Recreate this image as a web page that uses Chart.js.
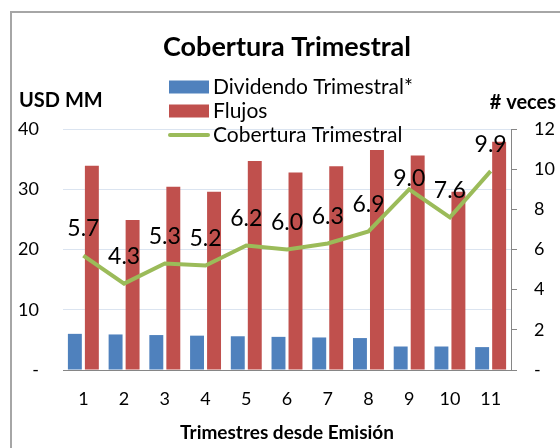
<!DOCTYPE html>
<html lang="es">
<head>
  <meta charset="UTF-8" />
  <title>Cobertura Trimestral</title>
  <script src="https://cdn.jsdelivr.net/npm/chart.js"></script>
  <style>
    * { margin: 0; padding: 0; box-sizing: border-box; }
    body { background: #fff; }
    .wrap { position: relative; width: 560px; height: 448px; }
  </style>
</head>
<body>
  <div class="wrap"><canvas id="cobertura"></canvas></div>

  <script>
    // data
    const trimestres = ['1', '2', '3', '4', '5', '6', '7', '8', '9', '10', '11'];
    const dividendo = [6.0, 5.9, 5.8, 5.7, 5.6, 5.5, 5.4, 5.3, 3.9, 3.9, 3.8];
    const flujos = [33.9, 24.9, 30.4, 29.6, 34.7, 32.8, 33.8, 36.5, 35.6, 29.6, 37.9];
    const cobertura = [5.7, 4.3, 5.3, 5.2, 6.2, 6.0, 6.3, 6.9, 9.0, 7.6, 9.9];
    const usdTicks = [0, 10, 20, 30, 40];
    const vecesTicks = [0, 2, 4, 6, 8, 10, 12];

    const FONT = 'Lato';
    const BLUE = '#4f81bd', RED = '#c0504d', GREEN = '#9bbb59';
    const AXIS = '#868686', GRID = '#dbe4f0';

    const dash = v => (v === 0 ? '-' : String(v));

    // frame, titles, legend and labels the library doesn't place like Excel
    const excelBits = {
      id: 'excelBits',
      beforeDraw(chart) {
        const { ctx } = chart;
        ctx.save();
        ctx.fillStyle = '#fff';
        ctx.fillRect(0, 0, chart.width, chart.height);
        ctx.strokeStyle = '#a6a6a6';
        ctx.lineWidth = 2;
        ctx.beginPath();
        ctx.moveTo(11, chart.height);
        ctx.lineTo(11, 12);
        ctx.lineTo(chart.width, 12);
        ctx.stroke();
        ctx.restore();
      },
      afterDatasetsDraw(chart, args, opts) {
        const { ctx } = chart;
        const meta = chart.getDatasetMeta(2);
        ctx.save();
        ctx.fillStyle = '#000';
        ctx.font = '23px ' + FONT;
        ctx.textAlign = 'center';
        ctx.textBaseline = 'middle';
        meta.data.forEach((pt, i) => {
          const lift = opts.lift[i] !== undefined ? opts.lift[i] : 27;
          ctx.fillText(cobertura[i].toFixed(1), pt.x, pt.y - lift);
        });
        ctx.restore();
      },
      afterDraw(chart) {
        const { ctx, chartArea } = chart;
        const cx = (chartArea.left + chartArea.right) / 2;
        ctx.save();
        ctx.fillStyle = '#000';
        ctx.textBaseline = 'middle';

        ctx.textAlign = 'center';
        ctx.font = 'bold 27px ' + FONT;
        ctx.fillText('Cobertura Trimestral', cx, 47);
        ctx.font = 'bold 19px ' + FONT;
        ctx.fillText('Trimestres desde Emisión', cx, 433);

        ctx.font = 'bold 20px ' + FONT;
        ctx.textAlign = 'left';
        ctx.fillText('USD MM', 19, 101);
        ctx.textAlign = 'right';
        ctx.fillText('# veces', 556, 103);

        // legend
        ctx.textAlign = 'left';
        ctx.font = '21px ' + FONT;
        chart.data.datasets.forEach((ds, i) => {
          const y = 87 + i * 24;
          if (ds.type === 'line') {
            ctx.strokeStyle = ds.borderColor;
            ctx.lineWidth = 4;
            ctx.lineCap = 'round';
            ctx.beginPath();
            ctx.moveTo(170, y);
            ctx.lineTo(208, y);
            ctx.stroke();
          } else {
            ctx.fillStyle = ds.backgroundColor;
            ctx.fillRect(169, y - 6.5, 40, 13);
          }
          ctx.fillStyle = '#000';
          ctx.fillText(ds.label, 213, y);
        });
        ctx.restore();
      }
    };

    new Chart(document.getElementById('cobertura'), {
      data: {
        labels: trimestres,
        datasets: [
          { type: 'bar', label: 'Dividendo Trimestral*', data: dividendo,
            backgroundColor: BLUE, yAxisID: 'y', order: 2 },
          { type: 'bar', label: 'Flujos', data: flujos,
            backgroundColor: RED, yAxisID: 'y', order: 2 },
          { type: 'line', label: 'Cobertura Trimestral', data: cobertura,
            borderColor: GREEN, backgroundColor: GREEN, borderWidth: 4,
            pointRadius: 0, tension: 0, yAxisID: 'y1', order: 1 }
        ]
      },
      options: {
        responsive: true,
        maintainAspectRatio: false,
        animation: false,
        layout: { padding: { top: 129, left: 0, right: 0, bottom: 0 } },
        datasets: { bar: { categoryPercentage: 0.835, barPercentage: 0.82 } },
        plugins: {
          legend: { display: false },
          tooltip: { enabled: false },
          excelBits: { lift: { 8: 11 } }
        },
        scales: {
          x: {
            grid: { display: false, drawTicks: false },
            border: { display: true, color: AXIS, width: 1 },
            ticks: { color: '#000', font: { family: FONT, size: 18 }, padding: 18 },
            afterFit(s) { s.height = 78; }
          },
          y: {
            position: 'left',
            min: 0, max: 40,
            afterBuildTicks(s) { s.ticks = usdTicks.map(v => ({ value: v })); },
            grid: { color: c => (c.tick && c.tick.value === 0 ? 'rgba(0,0,0,0)' : GRID), drawTicks: false },
            border: { display: false },
            ticks: { color: '#000', font: { family: FONT, size: 18 }, padding: 24, callback: dash },
            afterFit(s) { s.width = 63; }
          },
          y1: {
            position: 'right',
            min: 0, max: 12,
            afterBuildTicks(s) { s.ticks = vecesTicks.map(v => ({ value: v })); },
            grid: { drawOnChartArea: false, drawTicks: true, tickLength: 6, color: AXIS },
            border: { display: true, color: AXIS, width: 1 },
            ticks: { color: '#000', font: { family: FONT, size: 18 }, padding: 17, callback: dash },
            afterFit(s) { s.width = 49; }
          }
        }
      },
      plugins: [excelBits]
    });
  </script>
</body>
</html>
